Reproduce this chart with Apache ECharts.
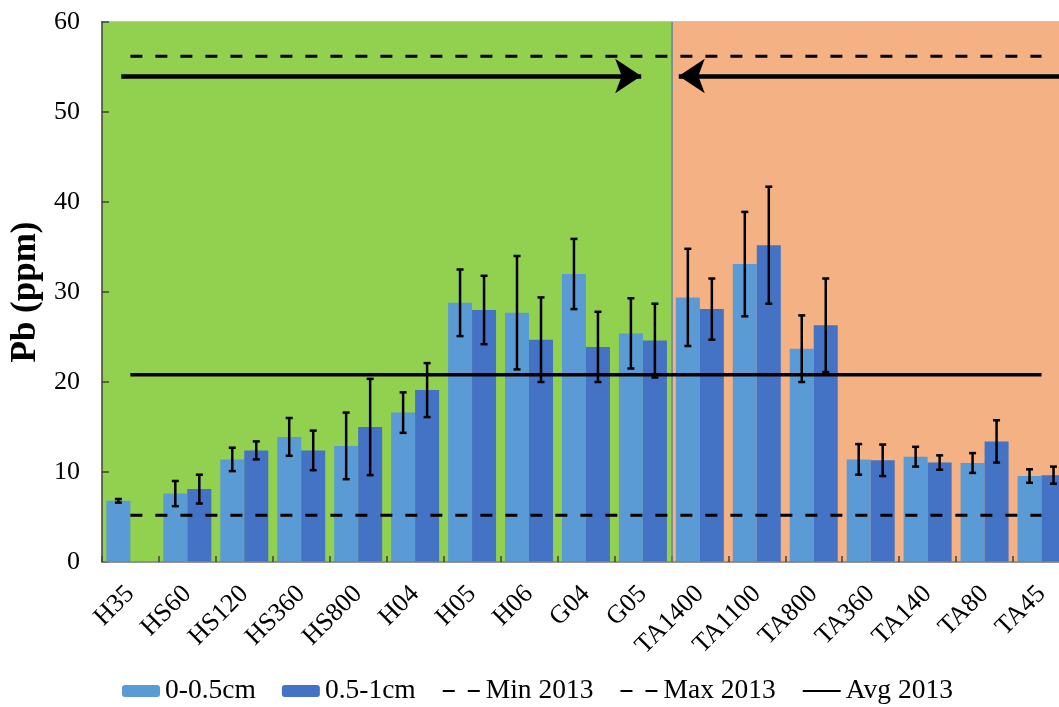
<!DOCTYPE html>
<html>
<head>
<meta charset="utf-8">
<script src="https://cdn.jsdelivr.net/npm/echarts@6/dist/echarts.min.js"></script>
<style>
html,body{margin:0;padding:0;background:#fff;overflow:hidden;}
#chart{width:1080px;height:707px;}
</style>
</head>
<body>
<div id="chart"></div>
<script>
// ---- data ----
var categories = ['H35','HS60','HS120','HS360','HS800','H04','H05','H06','G04','G05','TA1400','TA1100','TA800','TA360','TA140','TA80','TA45'];
var shallow    = [6.8, 7.6, 11.4, 13.9, 12.9, 16.6, 28.8, 27.7, 32.0, 25.4, 29.4, 33.1, 23.7, 11.4, 11.7, 11.0, 9.55];
var shallowErr = [0.2, 1.4, 1.3, 2.1, 3.7, 2.25, 3.7, 6.3, 3.9, 3.9, 5.4, 5.8, 3.7, 1.7, 1.1, 1.1, 0.75];
var deep       = [null, 8.1, 12.4, 12.4, 15.0, 19.1, 28.0, 24.7, 23.9, 24.6, 28.1, 35.2, 26.3, 11.3, 11.05, 13.4, 9.65];
var deepErr    = [null, 1.6, 1.0, 2.2, 5.35, 3.0, 3.8, 4.7, 3.9, 4.1, 3.4, 6.5, 5.2, 1.75, 0.8, 2.35, 0.95];
var MIN_2013 = 5.2;
var MAX_2013 = 56.2;
var AVG_2013 = 20.8;
var yTicks = [0, 10, 20, 30, 40, 50, 60];
// shaded zones (in category units) and arrows (x start/end in category units, y in ppm)
var zones = [[0, 10], [10, 17]];
var arrowRight = [[0.34, 54], [9.47, 54]];
var arrowLeft  = [[10.13, 54], [17, 54]];

var FONT = '"Liberation Serif", "Times New Roman", serif';
var BAR_W = 24;

function errData(vals, errs) {
  var out = [];
  for (var i = 0; i < vals.length; i++) {
    if (vals[i] == null || errs[i] == null) continue;
    out.push([i, vals[i] - errs[i], vals[i] + errs[i]]);
  }
  return out;
}
function errRender(offset) {
  return function (params, api) {
    var lo = api.coord([api.value(0), api.value(1)]);
    var hi = api.coord([api.value(0), api.value(2)]);
    var x = lo[0] + offset;
    var cap = 3.5;
    var st = {stroke: '#000', lineWidth: 2.5};
    return {
      type: 'group',
      children: [
        {type: 'line', shape: {x1: x, y1: hi[1], x2: x, y2: lo[1]}, style: st},
        {type: 'line', shape: {x1: x - cap, y1: hi[1], x2: x + cap, y2: hi[1]}, style: st},
        {type: 'line', shape: {x1: x - cap, y1: lo[1], x2: x + cap, y2: lo[1]}, style: st}
      ]
    };
  };
}
function constLine(v) { return categories.map(function () { return v; }); }

var chart = echarts.init(document.getElementById('chart'));
chart.setOption({
  animation: false,
  backgroundColor: '#fff',
  textStyle: {fontFamily: FONT},
  grid: {left: 100, top: 22, width: 970, height: 540, containLabel: false},
  legend: {
    left: 117, top: 672,
    itemWidth: 38, itemHeight: 12, itemGap: 26,
    textStyle: {fontFamily: FONT, fontSize: 27.5, color: '#000', padding: [0, 0, 0, 0]},
    data: [
      {name: '0-0.5cm'},
      {name: '0.5-1cm'},
      {name: 'Min 2013', itemStyle: {opacity: 0}},
      {name: 'Max 2013', itemStyle: {opacity: 0}},
      {name: 'Avg 2013', itemStyle: {opacity: 0}}
    ]
  },
  xAxis: [
    {
      type: 'category', data: categories,
      axisLine: {lineStyle: {color: '#7f7f7f', width: 1.5}},
      axisTick: {show: true, inside: true, length: 6, interval: 0, lineStyle: {color: '#404040', width: 1.5}},
      axisLabel: {interval: 0, rotate: 45, fontSize: 26, color: '#000', fontFamily: FONT, margin: 28},
      z: 3
    },
    {
      type: 'value', min: 0, max: 17, position: 'top',
      axisLine: {show: true, onZero: false, lineStyle: {color: '#4a5d75', width: 1.5}},
      axisTick: {show: false}, axisLabel: {show: false}, splitLine: {show: false}
    }
  ],
  yAxis: {
    type: 'value', min: 0, max: 60, interval: 10,
    name: 'Pb (ppm)', nameLocation: 'middle', nameGap: 54, nameRotate: 90,
    nameTextStyle: {fontFamily: FONT, fontSize: 35, fontWeight: 'bold', color: '#000'},
    axisLine: {show: true, lineStyle: {color: '#404040', width: 1.5}},
    axisTick: {show: true, inside: true, length: 7, lineStyle: {color: '#404040', width: 1.5}},
    axisLabel: {fontSize: 26, color: '#000', fontFamily: FONT, margin: 22,
      formatter: function (v) { return yTicks.indexOf(v) >= 0 ? String(v) : ''; }},
    splitLine: {show: true, lineStyle: {color: '#d9d9d9', width: 1.5}},
    z: 1
  },
  series: [
    {
      name: 'bg', type: 'line', xAxisIndex: 1, data: [], z: 0, silent: true,
      markArea: {
        silent: true,
        data: [
          [{xAxis: zones[0][0], itemStyle: {color: '#92D050'}}, {xAxis: zones[0][1]}],
          [{xAxis: zones[1][0], itemStyle: {color: '#F4B183'}}, {xAxis: zones[1][1]}]
        ]
      },
      markLine: {
        silent: true, symbol: 'none', label: {show: false},
        data: [
          [{coord: [zones[0][1], 0], lineStyle: {color: '#5f7f9c', width: 1.5, type: 'solid'}}, {coord: [zones[0][1], 60]}]
        ]
      }
    },
    {
      name: 'arrows', type: 'line', xAxisIndex: 1, data: [], z: 6, silent: true,
      markLine: {
        silent: true, label: {show: false}, symbolSize: 26,
        lineStyle: {color: '#000', width: 4.5, type: 'solid'},
        data: [
          [{coord: arrowRight[0], symbol: 'none'}, {coord: arrowRight[1], symbol: 'arrow', symbolSize: 26}],
          [{coord: arrowLeft[0], symbol: 'arrow', symbolSize: 26}, {coord: arrowLeft[1], symbol: 'none'}]
        ]
      }
    },
    {
      name: '0-0.5cm', type: 'bar', data: shallow, barWidth: BAR_W, barGap: '0%',
      itemStyle: {color: '#5B9BD5'}, z: 2
    },
    {
      name: '0.5-1cm', type: 'bar', data: deep, barWidth: BAR_W, barGap: '0%',
      itemStyle: {color: '#4472C4'}, z: 2
    },
    {
      name: 'err1', type: 'custom', data: errData(shallow, shallowErr),
      renderItem: errRender(-BAR_W / 2), encode: {x: 0, y: [1, 2]}, z: 7, silent: true
    },
    {
      name: 'err2', type: 'custom', data: errData(deep, deepErr),
      renderItem: errRender(BAR_W / 2), encode: {x: 0, y: [1, 2]}, z: 7, silent: true
    },
    {
      name: 'Min 2013', type: 'line', data: constLine(MIN_2013), symbol: 'none', z: 5,
      lineStyle: {color: '#000', width: 3, type: [12, 13]}, itemStyle: {color: '#000'}
    },
    {
      name: 'Max 2013', type: 'line', data: constLine(MAX_2013), symbol: 'none', z: 5,
      lineStyle: {color: '#000', width: 3, type: [12, 13]}, itemStyle: {color: '#000'}
    },
    {
      name: 'Avg 2013', type: 'line', data: constLine(AVG_2013), symbol: 'none', z: 5,
      lineStyle: {color: '#000', width: 3.5, type: 'solid'}, itemStyle: {color: '#000'}
    }
  ]
});
</script>
</body>
</html>
